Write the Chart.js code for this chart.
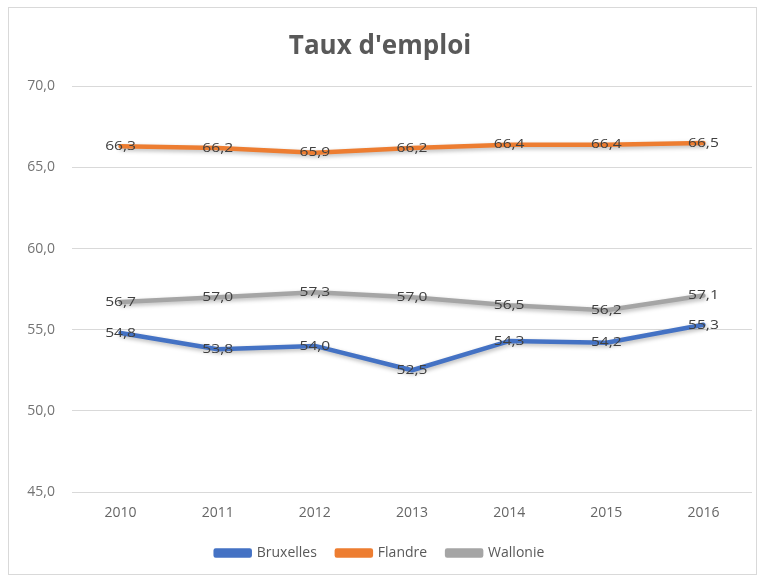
<!DOCTYPE html>
<html>
<head>
<meta charset="utf-8">
<script src="https://cdn.jsdelivr.net/npm/chart.js@4/dist/chart.umd.min.js"></script>
<style>
  html, body { margin: 0; padding: 0; background: #fff; }
  #wrap { position: relative; width: 761px; height: 577px; }
  #frame {
    position: absolute; left: 8px; top: 7px; width: 747px; height: 566px;
    border: 1px solid #d9d9d9; pointer-events: none;
  }
</style>
</head>
<body>
<div id="wrap">
  <canvas id="chart" width="761" height="577"></canvas>
  <div id="frame"></div>
</div>
<script>
// ---- data ----
const years = ['2010', '2011', '2012', '2013', '2014', '2015', '2016'];
const bruxelles = [54.8, 53.8, 54.0, 52.5, 54.3, 54.2, 55.3];
const flandre   = [66.3, 66.2, 65.9, 66.2, 66.4, 66.4, 66.5];
const wallonie  = [56.7, 57.0, 57.3, 57.0, 56.5, 56.2, 57.1];

const FONT = "'Open Sans', 'DejaVu Sans', sans-serif";
const fmt = v => Number(v).toFixed(1).replace('.', ',');

// soft shadow under each line, like the Excel style
const lineShadow = {
  id: 'lineShadow',
  beforeDatasetDraw(chart) {
    const ctx = chart.ctx;
    ctx.save();
    ctx.shadowColor = 'rgba(0,0,0,0.28)';
    ctx.shadowBlur = 4;
    ctx.shadowOffsetX = 1;
    ctx.shadowOffsetY = 2;
  },
  afterDatasetDraw(chart) {
    chart.ctx.restore();
  }
};

// value labels centred on each point (slightly widened like the original)
const valueLabels = {
  id: 'valueLabels',
  afterDatasetsDraw(chart) {
    const ctx = chart.ctx;
    ctx.save();
    ctx.font = '13px ' + FONT;
    ctx.fillStyle = '#404040';
    ctx.textAlign = 'center';
    ctx.textBaseline = 'middle';
    chart.data.datasets.forEach((ds, i) => {
      const meta = chart.getDatasetMeta(i);
      meta.data.forEach((pt, j) => {
        ctx.save();
        ctx.translate(pt.x, pt.y);
        ctx.scale(1.2, 1);
        ctx.fillText(fmt(ds.data[j]), 0, 0);
        ctx.restore();
      });
    });
    ctx.restore();
  }
};

function series(label, data, color) {
  return {
    label, data,
    borderColor: color,
    backgroundColor: color,
    borderWidth: 4.5,
    pointRadius: 0,
    pointHoverRadius: 0,
    tension: 0,
    borderCapStyle: 'round',
    borderJoinStyle: 'round'
  };
}

new Chart(document.getElementById('chart'), {
  type: 'line',
  data: {
    labels: years,
    datasets: [
      series('Bruxelles', bruxelles, '#4472c4'),
      series('Flandre', flandre, '#ed7d31'),
      series('Wallonie', wallonie, '#a5a5a5')
    ]
  },
  options: {
    responsive: false,
    animation: false,
    events: [],
    layout: { padding: { top: 31, left: 8, right: 9, bottom: 7 } },
    plugins: {
      title: {
        display: true,
        text: "Taux d'emploi",
        color: '#595959',
        font: { family: FONT, size: 26, weight: 'bold' },
        padding: { top: 0, bottom: 24 }
      },
      legend: {
        position: 'bottom',
        labels: {
          boxWidth: 34,
          boxHeight: 5,
          padding: 20,
          color: '#595959',
          font: { family: FONT, size: 14 }
        }
      },
      tooltip: { enabled: false }
    },
    scales: {
      x: {
        offset: true,
        grid: { display: false, drawTicks: false },
        border: { display: false },
        ticks: { color: '#666', font: { family: FONT, size: 14 }, padding: 13 },
        afterFit(scale) { scale.height = 34; }
      },
      y: {
        min: 45,
        max: 70,
        grid: { color: '#d9d9d9', drawTicks: false },
        border: { display: false },
        ticks: {
          stepSize: 5,
          color: '#737373',
          padding: 17,
          font: { family: FONT, size: 14 },
          callback: v => fmt(v)
        },
        afterFit(scale) { scale.width = 64; }
      }
    }
  },
  plugins: [lineShadow, valueLabels]
});
</script>
</body>
</html>
